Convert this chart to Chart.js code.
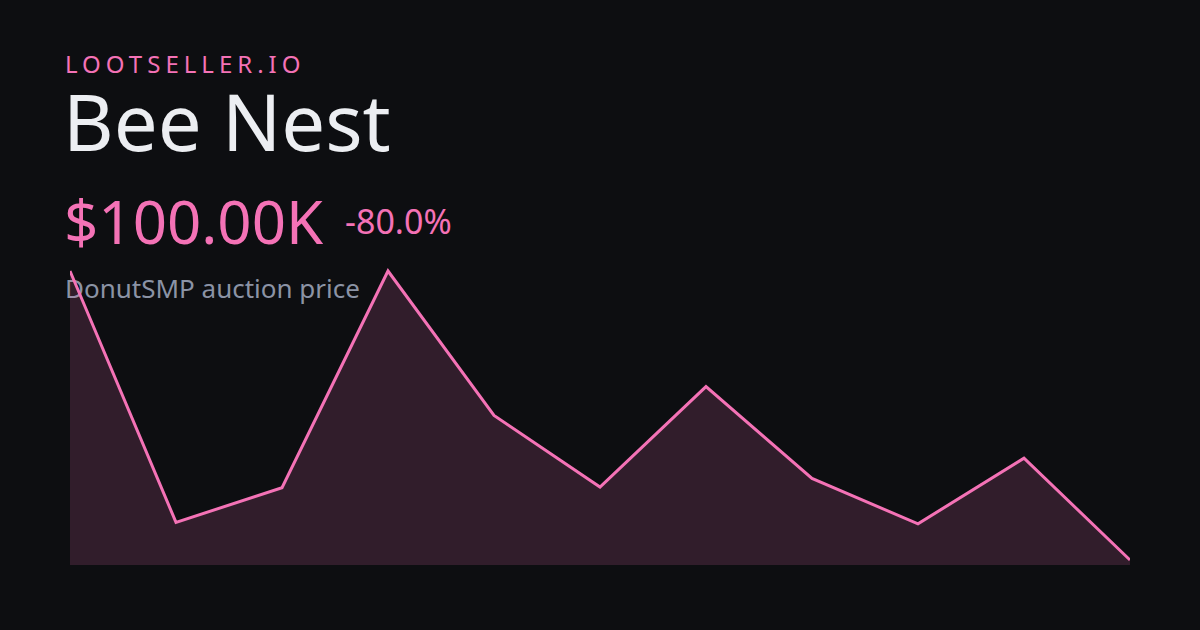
<!DOCTYPE html>
<html>
<head>
<meta charset="utf-8">
<script src="https://cdn.jsdelivr.net/npm/chart.js@4"></script>
<style>
    html, body { margin: 0; padding: 0; }
    body {
        width: 1200px;
        height: 630px;
        background: #0d0e11;
        position: relative;
        overflow: hidden;
        font-family: 'Noto Sans', 'Open Sans', sans-serif;
    }
    .txt { position: absolute; line-height: 1; white-space: nowrap; }
    #brand { left: 65px; top: 52px; font-size: 24px; letter-spacing: 5px; color: #f472b6; }
    #title { left: 63px; top: 82px; font-size: 78px; color: #eceef2; }
    #price { left: 64px; top: 191px; font-size: 60px; color: #f472b6; }
    #change { left: 345px; top: 204px; font-size: 34px; color: #f472b6; }
    #sub { left: 65px; top: 275px; font-size: 26px; color: #8b93a5; }
    #wrap { position: absolute; left: 70px; top: 255px; width: 1060px; height: 310px; }
</style>
</head>
<body>
<div class="txt" id="brand">LOOTSELLER.IO</div>
<div class="txt" id="title">Bee Nest</div>
<div class="txt" id="price">$100.00K</div>
<div class="txt" id="change">-80.0%</div>
<div class="txt" id="sub">DonutSMP auction price</div>
<div id="wrap"><canvas id="priceChart"></canvas></div>
<script>
    var labels = ['1', '2', '3', '4', '5', '6', '7', '8', '9', '10', '11'];
    var prices = [500, 152, 200, 500, 300, 201, 340, 213, 150, 241, 100];

    (function priceChart () {
        'use strict';

        var ctx = document.getElementById('priceChart').getContext('2d');

        new Chart(ctx, {
            type: 'line',
            data: {
                labels: labels,
                datasets: [{
                    data: prices,
                    borderColor: '#f472b6',
                    borderWidth: 3,
                    backgroundColor: 'rgba(244, 114, 182, 0.16)',
                    fill: 'start',
                    tension: 0,
                    pointRadius: 0,
                    borderJoinStyle: 'miter'
                }]
            },
            options: {
                responsive: true,
                maintainAspectRatio: false,
                animation: false,
                layout: { padding: 0 },
                plugins: {
                    legend: { display: false },
                    tooltip: { enabled: false }
                },
                scales: {
                    x: { display: false, offset: false },
                    y: { display: false, min: 93.08, max: 522.15 }
                }
            }
        });
    }());
</script>
</body>
</html>
